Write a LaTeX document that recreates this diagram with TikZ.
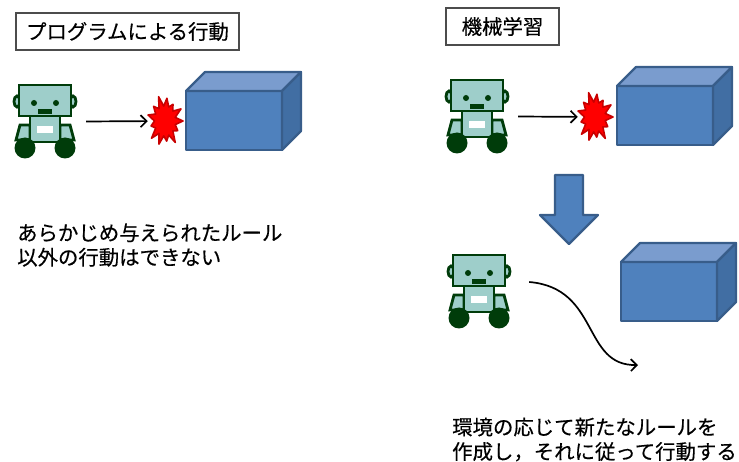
\documentclass[tikz,border=0pt]{standalone}
\usepackage{fontspec}
\newfontfamily\jpfont[FakeBold=0.4]{Noto Sans CJK JP}
\usetikzlibrary{arrows.meta}

\definecolor{robofill}{RGB}{158,206,202}
\definecolor{roboline}{RGB}{0,60,10}
\definecolor{boxfront}{RGB}{79,129,189}
\definecolor{boxtop}{RGB}{122,156,206}
\definecolor{boxside}{RGB}{65,110,163}
\definecolor{boxline}{RGB}{56,93,138}
\definecolor{boomline}{RGB}{200,0,0}

\tikzset{
    robo/.style={draw=roboline, line width=2.8pt, fill=robofill},
    boxedge/.style={draw=boxline, line width=2.2pt, line join=round},
    % little robot, origin at the top left corner of its head
    robot/.pic={
        \draw[robo] (-2,16.5) ellipse (3 and 5.5);
        \draw[robo] (54,16.5) ellipse (3 and 5.5);
        \draw[robo] (1,40) -- (11,40) -- (11,55) -- (-3,55) -- cycle;
        \draw[robo] (51,40) -- (41,40) -- (41,55) -- (55,55) -- cycle;
        \draw[robo] (11,31) rectangle (41,57);
        \fill[white] (18,41) rectangle (34,48);
        \draw[robo] (0,0) rectangle (52,31);
        \fill[roboline] (15,18) circle (3) (37,18) circle (3);
        \fill[roboline] (19,24.5) rectangle (33,29);
        \fill[roboline] (6,63) circle (10.5) (46,63) circle (10.5);
        \node[inner sep=0, minimum width=61pt, minimum height=73pt] (-frame) at (25.5,36.5) {};
    },
    % box seen from above right, origin at the top left of its front face
    cube/.pic={
        \draw[boxedge, fill=boxfront] (0,0) rectangle (96,59);
        \draw[boxedge, fill=boxtop] (0,0) -- (19,-19) -- (115,-19) -- (96,0) -- cycle;
        \draw[boxedge, fill=boxside] (96,0) -- (115,-19) -- (115,40) -- (96,59) -- cycle;
    },
    % red flash, origin at its centre
    flash/.pic={
        \draw[fill=red, draw=boomline, line width=1.6pt, line join=round] (0:18 and 26)
            \foreach \i/\s in {0/0.8,1/1,2/0.78,3/0.95,4/1,5/0.8,6/0.97,7/0.85,8/1,9/0.88,10/0.78,11/1,12/1} {
                -- ({(\i+0.5)*360/13}:10.5 and 15) -- ({(\i+1)*360/13}:{18*\s} and {26*\s})
            } -- cycle;
        \node[inner sep=0, minimum width=34pt, minimum height=50pt] (-area) at (0,0) {};
    }
}

\begin{document}
\begin{tikzpicture}[
    x=1pt, y=-1pt,
    titlebox/.style={draw=black!70, line width=1.3pt, minimum height=37pt, inner xsep=10pt, font=\jpfont\fontsize{20.4}{24}\selectfont},
    note/.style={anchor=west, align=left, inner sep=0, font=\jpfont\fontsize{20.4}{24.5}\selectfont},
    flow/.style={line width=1.7pt, -{Straight Barb[length=6pt, width=12pt]}}
]
    \useasboundingbox (0,0) rectangle (739,462);

    % Programmed behaviour
    \node[titlebox] (progtitle) at (127.5,31.5) {プログラムによる行動};
    \pic (rob1) at (19,85) {robot};
    \pic (boom1) at (165,121) {flash};
    \pic at (186,91) {cube};
    \draw[flow] ([xshift=11pt]rob1-frame.east) -- (boom1-area);
    \node[note] (rule) at (17,245) {あらかじめ与えられたルール\\以外の行動はできない};

    % Machine learning
    \node[titlebox, minimum width=113pt] (mltitle) at (502.5,26.5) {機械学習};
    \pic (rob2) at (451,80) {robot};
    \pic (boom2) at (595,117) {flash};
    \pic at (617,86) {cube};
    \draw[flow] ([xshift=11pt]rob2-frame.east) -- (boom2-area);

    % Down arrow
    \draw[boxedge, fill=boxfront] (555,175) -- (583,175) -- (583,215) -- (598,215)
        -- (569,244) -- (540,215) -- (555,215) -- cycle;

    % Robot going around the box
    \pic (rob3) at (453,255) {robot};
    \pic at (621,262) {cube};
    \coordinate (drift) at (638,365);
    \draw[flow] ([shift={(20,-9.5)}]rob3-frame.east) .. controls (600,288) and (582,366) .. (drift);
    \node[note] (newrule) at (452,439.5) {環境の応じて新たなルールを\\作成し，それに従って行動する};
\end{tikzpicture}
\end{document}
